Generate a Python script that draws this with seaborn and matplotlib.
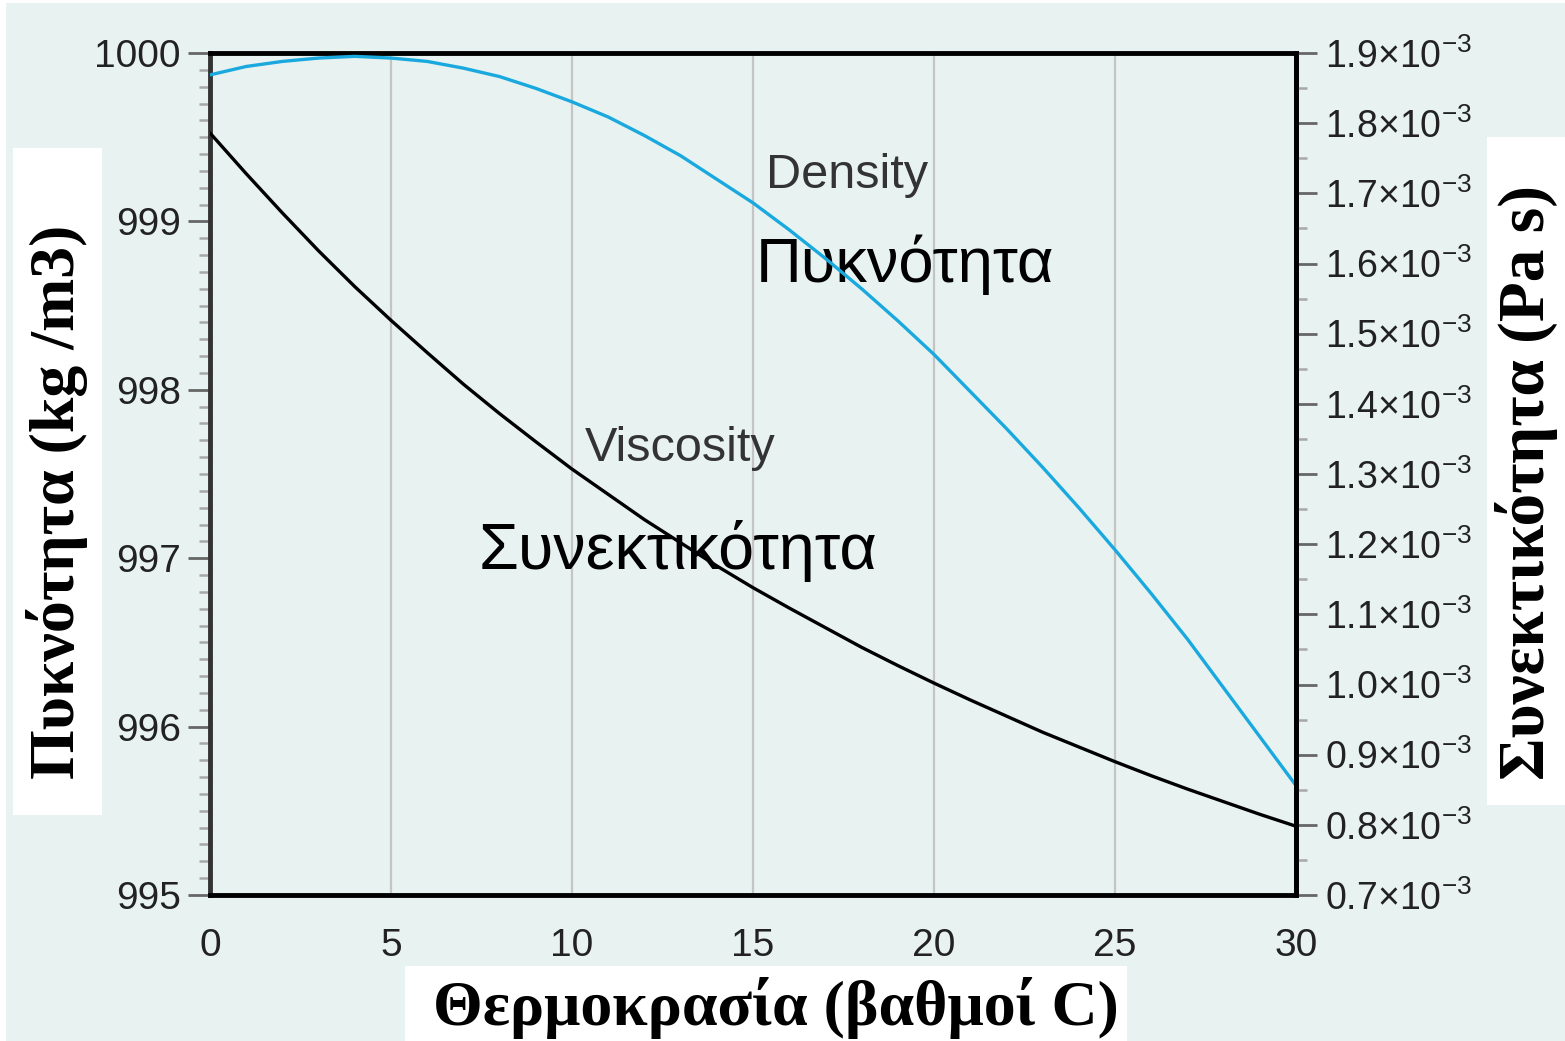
import numpy as np
import pandas as pd
import matplotlib
matplotlib.use("Agg")
import matplotlib.pyplot as plt
from matplotlib.patches import Rectangle
from matplotlib.ticker import MultipleLocator, FuncFormatter
import seaborn as sns

# ---- data ----
temperature_c = list(range(0, 31))
density_kg_m3 = [999.87, 999.92, 999.95, 999.97, 999.98, 999.97, 999.95, 999.91, 999.86,
                 999.79, 999.71, 999.62, 999.51, 999.39, 999.25, 999.11, 998.95, 998.78,
                 998.60, 998.41, 998.21, 997.99, 997.77, 997.54, 997.30, 997.05, 996.79,
                 996.52, 996.23, 995.94, 995.65]
viscosity_mpa_s = [1.786, 1.728, 1.672, 1.618, 1.567, 1.519, 1.473, 1.428, 1.386, 1.346,
                   1.307, 1.271, 1.235, 1.202, 1.169, 1.138, 1.109, 1.081, 1.053, 1.027,
                   1.002, 0.978, 0.955, 0.932, 0.911, 0.890, 0.870, 0.851, 0.833, 0.815,
                   0.798]
viscosity_pa_s = [v * 1e-3 for v in viscosity_mpa_s]

xlabel = "Θερμοκρασία (βαθμοί C)"
ylabel_left = "Πυκνότητα (kg /m3)"
ylabel_right = "Συνεκτικότητα (Pa s)"

df = pd.DataFrame({"T": temperature_c, "rho": density_kg_m3, "mu": viscosity_pa_s})

sns.set_theme(style="white")
plt.rcParams['font.family'] = ['Liberation Sans', 'DejaVu Sans']
plt.rcParams['mathtext.fontset'] = 'custom'
plt.rcParams['mathtext.rm'] = 'Liberation Sans'
plt.rcParams['mathtext.it'] = 'Liberation Sans:italic'
plt.rcParams['mathtext.bf'] = 'Liberation Sans:bold'

W, H = 1565, 1041
bg = "#e8f3f1"
fig = plt.figure(figsize=(W / 100, H / 100), dpi=100, facecolor="white")
fig.patches.append(Rectangle((6 / W, 0), 1 - 6 / W, 1 - 3 / H, transform=fig.transFigure,
                             facecolor=bg, edgecolor="none", zorder=-10))

ax = fig.add_axes([210 / W, 1 - 895 / H, (1296 - 210) / W, (895 - 53) / H])
ax.set_facecolor(bg)

sns.lineplot(data=df, x="T", y="rho", ax=ax, color="#1aa9df", linewidth=2.4, zorder=5)
ax.set_xlim(0, 30)
ax.set_ylim(995, 1000)
ax.xaxis.set_major_locator(MultipleLocator(5))
ax.xaxis.set_minor_locator(MultipleLocator(1))
ax.yaxis.set_major_locator(MultipleLocator(1))
ax.yaxis.set_minor_locator(MultipleLocator(0.1))
ax.grid(axis="x", which="major", color="#c4c4c4", linewidth=1.6)
ax.set_axisbelow(True)
ax.set_xlabel("")
ax.set_ylabel("")

ax.tick_params(axis="both", which="major", direction="out", length=16, width=2,
               color="#666666", labelsize=28, labelcolor="#222222", pad=5)
ax.tick_params(axis="both", which="minor", direction="out", length=8, width=1.8,
               color="#a8a8a8")
ax.tick_params(axis="x", which="major", pad=8)

for side, col in [("left", "#333333"), ("bottom", "black"), ("top", "black"), ("right", "black")]:
    ax.spines[side].set_color(col)
    ax.spines[side].set_linewidth(3.5)
    ax.spines[side].set_visible(True)

ax2 = ax.twinx()
sns.lineplot(data=df, x="T", y="mu", ax=ax2, color="black", linewidth=2.4, zorder=5)
ax2.set_ylim(0.7e-3, 1.9e-3)
ax2.yaxis.set_major_locator(MultipleLocator(0.1e-3))
ax2.yaxis.set_minor_locator(MultipleLocator(0.05e-3))
ax2.yaxis.set_major_formatter(FuncFormatter(lambda v, p: f"{v * 1e3:.1f}×10$^{{-3}}$"))
ax2.tick_params(axis="y", which="major", direction="out", length=15, width=2,
                color="#666666", labelsize=27, labelcolor="#222222", pad=6)
ax2.tick_params(axis="y", which="minor", direction="out", length=8, width=1.8,
                color="#a8a8a8")
ax2.set_ylabel("")
ax2.set_xlabel("")
for side in ["left", "bottom", "top", "right"]:
    ax2.spines[side].set_visible(False)
ax2.spines["right"].set_visible(True)
ax2.spines["right"].set_color("black")
ax2.spines["right"].set_linewidth(3.5)

# annotations
ax.text(17.6, 999.27, "Density", fontsize=35, color="#333333", ha="center", va="center")
ax.text(19.2, 998.74, "Πυκνότητα", fontsize=45.5, color="black", ha="center", va="center")
ax.text(13.0, 997.65, "Viscosity", fontsize=35, color="#333333", ha="center", va="center")
ax.text(12.93, 997.04, "Συνεκτικότητα", fontsize=46.5, color="black", ha="center", va="center")

# axis label boxes
for (x0, y0, x1, y1) in [(13, 148, 102, 815), (1487, 137, 1565, 805), (405, 966, 1127, 1041)]:
    fig.patches.append(Rectangle((x0 / W, 1 - y1 / H), (x1 - x0) / W, (y1 - y0) / H,
                                 transform=fig.transFigure, facecolor="white",
                                 edgecolor="none", zorder=-5))

serif = ['Liberation Serif', 'DejaVu Serif']
fig.text(57 / W, 1 - 502 / H, ylabel_left, rotation=90, ha="center", va="center",
         fontsize=46, fontweight="bold", family=serif, color="black")
fig.text(1527 / W, 1 - 483 / H, ylabel_right, rotation=90, ha="center", va="center",
         fontsize=47, fontweight="bold", family=serif, color="black")
fig.text(776 / W, 1 - 1008 / H, xlabel, ha="center", va="center",
         fontsize=46, fontweight="bold", family=serif, color="black")

fig.savefig("out.png", dpi=100, facecolor=fig.get_facecolor())
